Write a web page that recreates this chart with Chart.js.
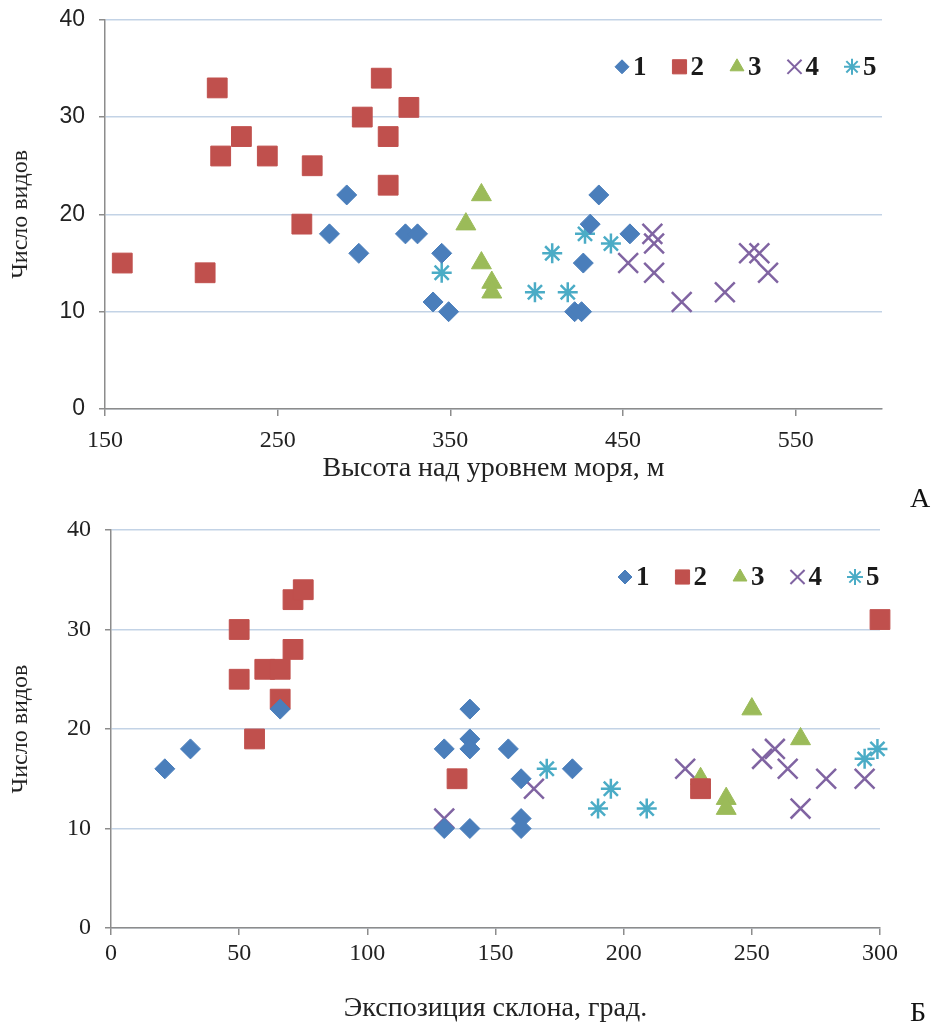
<!DOCTYPE html>
<html>
<head>
<meta charset="utf-8">
<script src="https://cdn.jsdelivr.net/npm/chart.js@4.4.0/dist/chart.umd.min.js"></script>
<style>
  body { margin: 0; background: #fff; width: 935px; height: 1025px; position: relative; overflow: hidden; }
  .box { position: absolute; left: 0; width: 935px; }
  .mark { position: absolute; font-family: "Liberation Serif", serif; font-size: 28px; color: #111; }
</style>
</head>
<body>
<div class="box" style="top:-8px; height:503px;"><canvas id="chartA"></canvas></div>
<div class="box" style="top:500px; height:525px;"><canvas id="chartB"></canvas></div>
<div class="mark" style="left:910px; top:482px;">А</div>
<div class="mark" style="left:910px; top:996px;">Б</div>
<script>
// Рисунок А: высота над уровнем моря
var a1x = [280, 290, 297, 324, 331, 340, 345, 349, 422, 426, 427, 431, 436, 454];
var a1y = [18, 22, 16, 18, 18, 11, 16, 10, 10, 10, 15, 19, 22, 18];
var a2x = [160, 208, 215, 217, 229, 244, 264, 270, 299, 310, 314, 314, 326];
var a2y = [15, 14, 33, 26, 28, 26, 19, 25, 30, 34, 28, 23, 31];
var a3x = [359, 368, 368, 374, 374];
var a3y = [19, 22, 15, 13, 12];
var a4x = [453, 467, 468, 468, 484, 509, 523, 529, 534];
var a4y = [15, 18, 17, 14, 11, 12, 16, 16, 14];
var a5x = [345, 399, 409, 418, 428, 443];
var a5y = [14, 12, 16, 12, 18, 17];
var aTicks = [150, 250, 350, 450, 550];

// Рисунок Б: экспозиция склона
var b1x = [21, 31, 66, 130, 130, 140, 140, 140, 140, 155, 160, 160, 160, 180];
var b1y = [16, 18, 22, 18, 10, 22, 19, 18, 10, 18, 15, 11, 10, 16];
var b2x = [50, 50, 56, 60, 66, 66, 71, 71, 75, 135, 230, 300];
var b2y = [30, 25, 19, 26, 26, 23, 33, 28, 34, 15, 14, 31];
var b3x = [230, 240, 240, 250, 269];
var b3y = [15, 13, 12, 22, 19];
var b4x = [130, 165, 224, 254, 259, 264, 269, 279, 294];
var b4y = [11, 14, 16, 17, 18, 16, 12, 15, 15];
var b5x = [170, 190, 195, 209, 294, 299];
var b5y = [16, 12, 14, 12, 17, 18];
var bTicks = [0, 50, 100, 150, 200, 250, 300];

var groups = ["1", "2", "3", "4", "5"];
var colors = ["#4a7ebb", "#c0504d", "#9bbb59", "#8064a2", "#4bacc6"];
var styles = ["rectRot", "rect", "triangle", "crossRot", "star"];
var radii = [10, 14, 11.5, 14, 10];
var legendRadii = [7, 10, 8, 10, 8];

function pts(xs, ys) {
  var out = [];
  for (var i = 0; i < xs.length; i++) out.push({ x: xs[i], y: ys[i] });
  return out;
}

function makeSets(list) {
  return list.map(function (d, i) {
    var line = styles[i] == "crossRot" || styles[i] == "star";
    return {
      label: groups[i],
      data: d,
      pointStyle: styles[i],
      pointRadius: radii[i],
      pointHoverRadius: radii[i],
      backgroundColor: colors[i],
      borderColor: colors[i],
      borderWidth: line ? 2.5 : 1,
      clip: false
    };
  });
}

// легенда внутри поля графика
var legendPlugin = {
  id: "innerLegend",
  afterDatasetsDraw: function (chart, args, opts) {
    var ctx = chart.ctx;
    var area = chart.chartArea;
    var x0 = area.right - opts.fromRight;
    var y = area.top + opts.fromTop;
    ctx.save();
    chart.data.datasets.forEach(function (ds, i) {
      var mx = x0 + i * 57.5;
      ctx.fillStyle = ds.backgroundColor;
      ctx.strokeStyle = ds.borderColor;
      ctx.lineWidth = ds.borderWidth == 1 ? 1 : 2;
      Chart.helpers.drawPoint(ctx, { pointStyle: ds.pointStyle, radius: legendRadii[i], borderWidth: ctx.lineWidth }, mx, y);
      ctx.fillStyle = "#1a1a1a";
      ctx.font = "bold 27px 'Liberation Serif'";
      ctx.textBaseline = "middle";
      ctx.textAlign = "left";
      ctx.fillText(ds.label, mx + 11, y + 1);
    });
    ctx.restore();
  }
};

function makeChart(id, sets, cfg) {
  return new Chart(document.getElementById(id), {
    type: "scatter",
    data: { datasets: sets },
    plugins: [legendPlugin],
    options: {
      responsive: true,
      maintainAspectRatio: false,
      animation: false,
      layout: { padding: cfg.padding },
      plugins: {
        legend: { display: false },
        tooltip: { enabled: false },
        innerLegend: cfg.legend
      },
      scales: {
        x: {
          type: "linear",
          min: cfg.xMin,
          max: cfg.xMax,
          afterBuildTicks: function (axis) {
            axis.ticks = cfg.xTicks.map(function (v) { return { value: v }; });
          },
          afterFit: function (axis) { axis.height = cfg.xHeight; },
          grid: { drawOnChartArea: false, drawTicks: true, tickLength: 7, tickColor: "#8c8c8c", lineWidth: 1.5 },
          border: { color: "#8c8c8c", width: 1.5 },
          ticks: {
            color: "#222",
            padding: cfg.xTickPad,
            font: { family: "'Liberation Serif'", size: 24 }
          },
          title: {
            display: true,
            text: cfg.xTitle,
            color: "#222",
            padding: cfg.xTitlePad,
            font: { family: "'Liberation Serif'", size: 28 }
          }
        },
        y: {
          min: 0,
          max: 40,
          afterFit: function (axis) { axis.width = cfg.yWidth; },
          grid: { color: "#c3d3e6", lineWidth: 1.5, tickLength: 6, tickColor: "#8c8c8c" },
          border: { color: "#8c8c8c", width: 1.5 },
          ticks: {
            stepSize: 10,
            color: "#222",
            padding: 14,
            font: cfg.yFont
          },
          title: {
            display: true,
            text: "Число видов",
            color: "#222",
            padding: { top: 0, bottom: 0 },
            font: { family: "'Liberation Serif'", size: 24 }
          }
        }
      }
    }
  });
}

var setsA = makeSets([pts(a1x, a1y), pts(a2x, a2y), pts(a3x, a3y), pts(a4x, a4y), pts(a5x, a5y)]);
makeChart("chartA", setsA, {
  padding: { top: 11, right: 53, left: 6, bottom: 10 },
  xMin: 150, xMax: 600, xTicks: aTicks,
  xHeight: 76, yWidth: 99, xTickPad: 10,
  xTitle: "Высота над уровнем моря, м",
  xTitlePad: { top: 0, bottom: 0 },
  yFont: { family: "'Liberation Sans'", size: 23 },
  legend: { fromRight: 260, fromTop: 47 }
});

var setsB = makeSets([pts(b1x, b1y), pts(b2x, b2y), pts(b3x, b3y), pts(b4x, b4y), pts(b5x, b5y)]);
makeChart("chartB", setsB, {
  padding: { top: 30, right: 55, left: 6, bottom: 0 },
  xMin: 0, xMax: 300, xTicks: bTicks,
  xHeight: 97, yWidth: 105, xTickPad: 4,
  xTitle: "Экспозиция склона, град.",
  xTitlePad: { top: 26, bottom: 0 },
  yFont: { family: "'Liberation Serif'", size: 24 },
  legend: { fromRight: 255, fromTop: 47 }
});
</script>
</body>
</html>
